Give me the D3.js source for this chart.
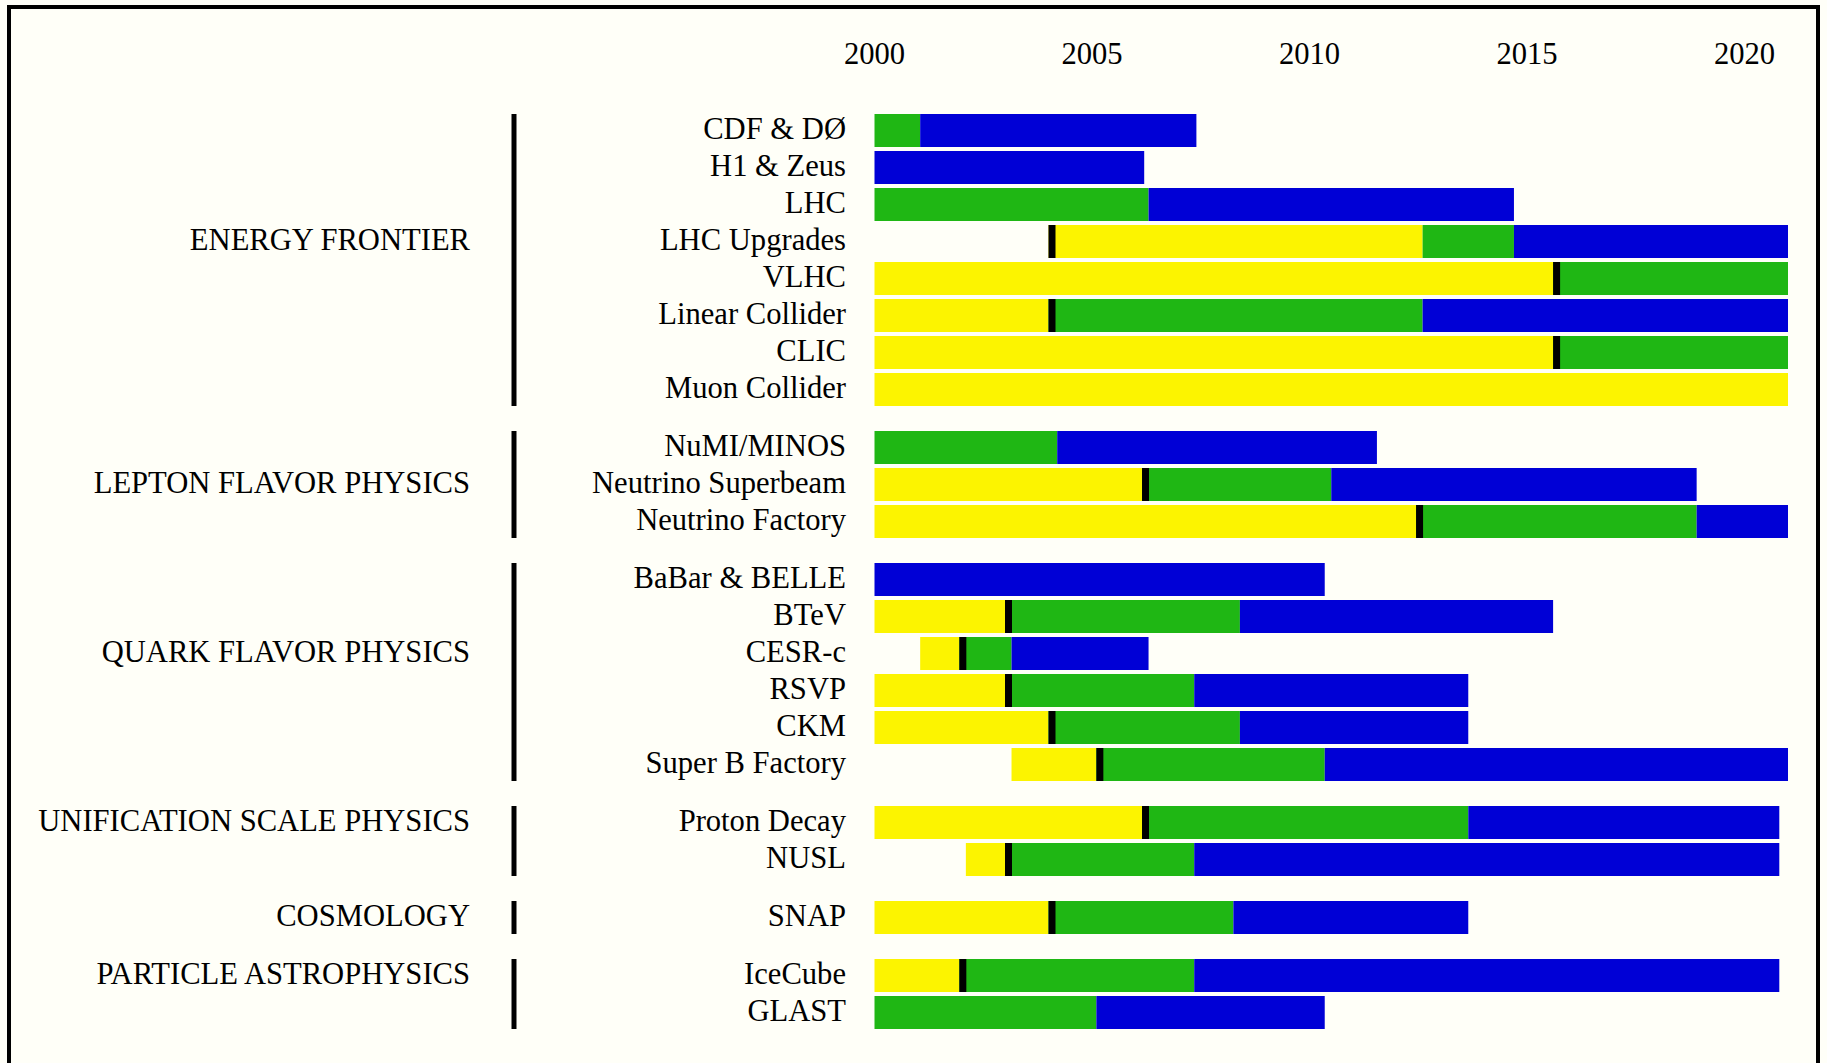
<!DOCTYPE html>
<html>
<head>
<meta charset="utf-8">
<script src="https://cdn.jsdelivr.net/npm/d3@7"></script>
<style>
  body { margin: 0; background: #fffff8; }
  svg { display: block; }
</style>
</head>
<body>
<div id="chart"></div>
<script>
// data (years)
var groups = ["ENERGY FRONTIER", "LEPTON FLAVOR PHYSICS", "QUARK FLAVOR PHYSICS",
              "UNIFICATION SCALE PHYSICS", "COSMOLOGY", "PARTICLE ASTROPHYSICS"];
var groupSizes = [8, 3, 6, 2, 1, 2];

var projects = ["CDF & DØ", "H1 & Zeus", "LHC", "LHC Upgrades", "VLHC", "Linear Collider", "CLIC", "Muon Collider",
                "NuMI/MINOS", "Neutrino Superbeam", "Neutrino Factory",
                "BaBar & BELLE", "BTeV", "CESR-c", "RSVP", "CKM", "Super B Factory",
                "Proton Decay", "NUSL",
                "SNAP",
                "IceCube", "GLAST"];

// R&D (yellow), construction (green), operation (blue), end of bar, decision marker (black)
var rdStart    = [null, null, null, 2004.0, 2000, 2000, 2000, 2000,
                  null, 2000, 2000,
                  null, 2000, 2001.05, 2000, 2000, 2003.15,
                  2000, 2002.1,
                  2000,
                  2000, null];
var buildStart = [2000, null, 2000, 2012.6, 2015.6, 2004.0, 2015.6, null,
                  2000, 2006.15, 2012.45,
                  null, 2003.0, 2001.95, 2003.0, 2004.0, 2005.1,
                  2006.15, 2003.0,
                  2004.0,
                  2001.95, 2000];
var runStart   = [2001.05, 2000, 2006.3, 2014.7, null, 2012.6, null, null,
                  2004.2, 2010.5, 2018.9,
                  2000, 2008.4, 2003.15, 2007.35, 2008.4, 2010.35,
                  2013.65, 2007.35,
                  2008.25,
                  2007.35, 2005.1];
var endYear    = [2007.4, 2006.2, 2014.7, 2021, 2021, 2021, 2021, 2021,
                  2011.55, 2018.9, 2021,
                  2010.35, 2015.6, 2006.3, 2013.65, 2013.65, 2021,
                  2020.8, 2020.8,
                  2013.65,
                  2020.8, 2010.35];
var decision   = [null, null, null, 2004.0, 2015.6, 2004.0, 2015.6, null,
                  null, 2006.15, 2012.45,
                  null, 2003.0, 2001.95, 2003.0, 2004.0, 2005.1,
                  2006.15, 2003.0,
                  2004.0,
                  2001.95, null];

var tickYears = [2000, 2005, 2010, 2015, 2020];

var width = 1827, height = 1063;
var barTop = 114, pitch = 37, barHeight = 33, groupGap = 21;
var labelRight = 846, groupRight = 470, groupLineX = 514;
var fontFamily = "'Liberation Serif', 'Times New Roman', serif";
var fontSize = "30.6px";
var colors = { rd: "#fcf400", build: "#1fb714", run: "#0000d6", mark: "#000" };

var x = d3.scaleLinear().domain([2000, 2021]).range([874.5, 1788]);

// row -> group index
var groupOf = [];
groupSizes.forEach(function (n, g) {
  for (var k = 0; k < n; k++) groupOf.push(g);
});
var groupFirst = groupSizes.map(function (n, g) { return d3.sum(groupSizes.slice(0, g)); });

function rowY(i) { return barTop + i * pitch + groupOf[i] * groupGap; }

var svg = d3.select("#chart").append("svg")
  .attr("width", width)
  .attr("height", height);

svg.append("rect")
  .attr("width", width).attr("height", height)
  .attr("fill", "#fffff8");

// frame
svg.append("rect")
  .attr("x", 9).attr("y", 7)
  .attr("width", 1809).attr("height", 1200)
  .attr("fill", "none")
  .attr("stroke", "#000")
  .attr("stroke-width", 4);

// year labels
svg.selectAll("text.tick")
  .data(tickYears)
  .enter().append("text")
  .attr("class", "tick")
  .attr("x", function (d) { return x(d); })
  .attr("y", 64)
  .attr("text-anchor", "middle")
  .attr("font-family", fontFamily)
  .attr("font-size", fontSize)
  .text(function (d) { return d; });

// segments
var segs = [];
projects.forEach(function (p, i) {
  var y = rowY(i);
  if (rdStart[i] !== null) {
    var e = buildStart[i] !== null ? buildStart[i] : (runStart[i] !== null ? runStart[i] : endYear[i]);
    segs.push({ y: y, a: rdStart[i], b: e, c: colors.rd });
  }
  if (buildStart[i] !== null) {
    segs.push({ y: y, a: buildStart[i], b: runStart[i] !== null ? runStart[i] : endYear[i], c: colors.build });
  }
  if (runStart[i] !== null) {
    segs.push({ y: y, a: runStart[i], b: endYear[i], c: colors.run });
  }
});

svg.selectAll("rect.seg")
  .data(segs)
  .enter().append("rect")
  .attr("class", "seg")
  .attr("x", function (d) { return x(d.a); })
  .attr("y", function (d) { return d.y; })
  .attr("width", function (d) { return x(d.b) - x(d.a); })
  .attr("height", barHeight)
  .attr("fill", function (d) { return d.c; });

// decision markers
svg.selectAll("rect.mark")
  .data(d3.range(projects.length).filter(function (i) { return decision[i] !== null; }))
  .enter().append("rect")
  .attr("class", "mark")
  .attr("x", function (i) { return x(decision[i]); })
  .attr("y", function (i) { return rowY(i); })
  .attr("width", 7)
  .attr("height", barHeight)
  .attr("fill", colors.mark);

// project labels
svg.selectAll("text.proj")
  .data(projects)
  .enter().append("text")
  .attr("class", "proj")
  .attr("x", labelRight)
  .attr("y", function (d, i) { return rowY(i) + barHeight / 2 + 8; })
  .attr("text-anchor", "end")
  .attr("font-family", fontFamily)
  .attr("font-size", fontSize)
  .text(function (d) { return d; });

// group lines and labels
groups.forEach(function (g, gi) {
  var first = groupFirst[gi], last = first + groupSizes[gi] - 1;
  svg.append("line")
    .attr("x1", groupLineX).attr("x2", groupLineX)
    .attr("y1", rowY(first)).attr("y2", rowY(last) + barHeight)
    .attr("stroke", "#000")
    .attr("stroke-width", 5);

  var labelRow = first + Math.floor((groupSizes[gi] - 1) / 2);
  svg.append("text")
    .attr("x", groupRight)
    .attr("y", rowY(labelRow) + barHeight / 2 + 8)
    .attr("text-anchor", "end")
    .attr("font-family", fontFamily)
    .attr("font-size", fontSize)
    .text(g);
});
</script>
</body>
</html>
